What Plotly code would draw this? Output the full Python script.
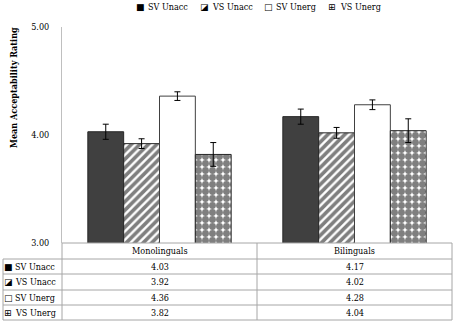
import plotly.graph_objects as go

# ---- data ----
groups = ["Monolinguals", "Bilinguals"]
series_names = ["SV Unacc", "VS Unacc", "SV Unerg", "VS Unerg"]
sv_unacc = [4.03, 4.17]
vs_unacc = [3.92, 4.02]
sv_unerg = [4.36, 4.28]
vs_unerg = [3.82, 4.04]
sv_unacc_err = [0.07, 0.07]
vs_unacc_err = [0.045, 0.05]
sv_unerg_err = [0.04, 0.045]
vs_unerg_err = [0.11, 0.11]
y_tick_vals = [3, 4, 5]
y_tick_text = ["3.00", "4.00", "5.00"]
y_title = "Mean Acceptability Rating"
symbols = ["\u25A0", "\u25EA", "\u25A1", "\u229E"]

series_values = [sv_unacc, vs_unacc, sv_unerg, vs_unerg]
series_errs = [sv_unacc_err, vs_unacc_err, sv_unerg_err, vs_unerg_err]

W, H = 454, 324
ML, MR, MT, MB = 62, 2, 27, 81
PW, PH = W - ML - MR, H - MT - MB

def px(xp):
    return (xp - ML) / PW

def py(yp):
    return (H - MB - yp) / PH

SERIF = "DejaVu Serif Condensed, DejaVu Serif, Liberation Serif, serif"
SYM = "DejaVu Sans"

styles = [
    dict(color="#404040", line=dict(color="#262626", width=1)),
    dict(color="white", line=dict(color="#262626", width=1),
         pattern=dict(shape="/", fgcolor="black", bgcolor="white", size=6, solidity=0.6)),
    dict(color="white", line=dict(color="#404040", width=1)),
    dict(color="white", line=dict(color="#262626", width=1),
         pattern=dict(shape=".", fgcolor="black", bgcolor="white", size=7, solidity=0.75)),
]

fig = go.Figure()
for name, vals, errs, st in zip(series_names, series_values, series_errs, styles):
    fig.add_trace(go.Bar(
        x=groups, y=vals, name=name, marker=st,
        error_y=dict(type="data", array=errs, color="black", thickness=1, width=3),
        showlegend=False,
    ))

fig.update_layout(
    width=W, height=H,
    margin=dict(l=ML, r=MR, t=MT, b=MB, pad=0),
    paper_bgcolor="white", plot_bgcolor="white",
    barmode="group", bargap=0.265, bargroupgap=0,
    font=dict(family=SERIF, size=9, color="black"),
    xaxis=dict(showticklabels=False, showgrid=False, zeroline=False,
               showline=False, ticks="", range=[-0.5, 1.5]),
    yaxis=dict(range=[3, 5], tickvals=y_tick_vals, ticktext=y_tick_text,
               showgrid=False, zeroline=False, showline=True,
               linecolor="#bfbfbf", linewidth=1, ticks="",
               ticklabelstandoff=10,
               tickfont=dict(family=SERIF, size=9, color="black")),
)

shapes = []
ann = []

ann.append(dict(text=f"<b>{y_title}</b>", x=px(14), y=py(88), xref="paper", yref="paper",
                showarrow=False, textangle=-90, font=dict(family=SERIF, size=9),
                xanchor="center", yanchor="middle"))

leg_sym_x = [140, 204, 268, 332]
for i, name in enumerate(series_names):
    ann.append(dict(text=symbols[i], x=px(leg_sym_x[i]), y=py(7), xref="paper", yref="paper",
                    showarrow=False, font=dict(family=SYM, size=9),
                    xanchor="center", yanchor="middle"))
    ann.append(dict(text=name, x=px(leg_sym_x[i] + 6), y=py(7), xref="paper", yref="paper",
                    showarrow=False, font=dict(family=SERIF, size=9),
                    xanchor="left", yanchor="middle"))

line_col = "#a6a6a6"
row_lines = [259, 274, 290, 305, 320]
shapes.append(dict(type="line", xref="paper", yref="paper", x0=px(62), x1=px(452),
                   y0=py(243), y1=py(243), line=dict(color=line_col, width=1)))
for yl in row_lines:
    shapes.append(dict(type="line", xref="paper", yref="paper", x0=px(3), x1=px(452),
                       y0=py(yl), y1=py(yl), line=dict(color=line_col, width=1)))
shapes.append(dict(type="line", xref="paper", yref="paper", x0=px(3), x1=px(3),
                   y0=py(259), y1=py(320), line=dict(color=line_col, width=1)))
for xv in [62, 257, 452]:
    shapes.append(dict(type="line", xref="paper", yref="paper", x0=px(xv), x1=px(xv),
                       y0=py(243), y1=py(320), line=dict(color=line_col, width=1)))

for g in groups:
    ann.append(dict(text=g, x=g, y=py(251), xref="x", yref="paper", showarrow=False,
                    font=dict(family=SERIF, size=9), xanchor="center", yanchor="middle"))
row_centers = [266.5, 282, 297.5, 312.5]
for i, name in enumerate(series_names):
    yc = row_centers[i]
    ann.append(dict(text=symbols[i], x=px(8), y=py(yc), xref="paper", yref="paper",
                    showarrow=False, font=dict(family=SYM, size=9),
                    xanchor="center", yanchor="middle"))
    ann.append(dict(text=name, x=px(13), y=py(yc), xref="paper", yref="paper",
                    showarrow=False, font=dict(family=SERIF, size=9),
                    xanchor="left", yanchor="middle"))
    for g, v in zip(groups, series_values[i]):
        ann.append(dict(text=f"{v:.2f}", x=g, y=py(yc), xref="x", yref="paper",
                        showarrow=False, font=dict(family=SERIF, size=9),
                        xanchor="center", yanchor="middle"))

fig.update_layout(shapes=shapes, annotations=ann)
fig.write_html("out.html", config={"displayModeBar": False},
               post_script="document.body.style.margin='0';document.body.style.overflow='hidden';")
